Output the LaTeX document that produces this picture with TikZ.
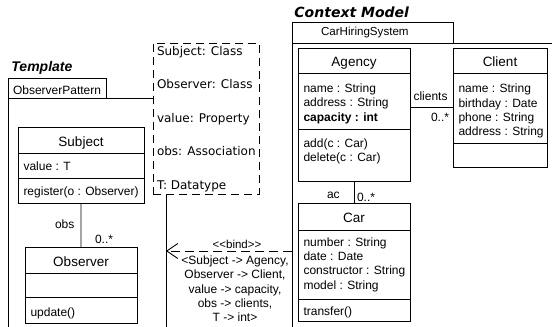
\documentclass[tikz,border=0pt]{standalone}
\usepackage{fontspec}
\setmainfont{Liberation Sans}
\newfontfamily\dejavu{DejaVu Sans}
\usetikzlibrary{arrows.meta,calc}
\begin{document}
\begin{tikzpicture}[x=1bp,y=-1bp,
  line width=0.9bp,
  box/.style={draw, inner sep=0, outer sep=0, anchor=north west},
  txt/.style={inner sep=0, outer sep=0, anchor=base west, font=\fontsize{12bp}{14bp}\selectfont},
  ctxt/.style={inner sep=0, outer sep=0, anchor=base, font=\fontsize{12bp}{14bp}\selectfont},
  ttl/.style={inner sep=0, outer sep=0, anchor=base, font=\fontsize{13.5bp}{16bp}\selectfont},
  ptxt/.style={inner sep=0, outer sep=0, anchor=base west, font=\dejavu\fontsize{12bp}{14bp}\selectfont},
  dsh/.style={dash pattern=on 8bp off 5bp}
]
\useasboundingbox (0,0) rectangle (552,326);
\clip (0,0) rectangle (552,326);

% ---------- Template package ----------
\node[inner sep=0, anchor=base west, font=\fontsize{14bp}{16bp}\selectfont\bfseries\itshape] (tlabel) at (11,71) {Template};
\node[box, minimum width=98bp, minimum height=20bp] (ttab) at (8,78) {};
\node[txt, font=\fontsize{12bp}{14bp}\selectfont] (ttabtxt) at (13,94) {ObserverPattern};
\node[box, minimum width=158bp, minimum height=260bp] (tbody) at (8,98) {};

% template parameters (dashed box)
\node[box, dsh, fill=white, minimum width=106bp, minimum height=151bp] (params) at (153,43) {};
\node[ptxt] (p1) at (157,55) {Subject: Class};
\node[ptxt] (p2) at (157,88) {Observer: Class};
\node[ptxt] (p3) at (157,122) {value: Property};
\node[ptxt] (p4) at (157,155.5) {obs: Association};
\node[ptxt] (p5) at (157,189) {T: Datatype};

% Subject
\node[box, minimum width=126bp, minimum height=76bp] (subject) at (18,127) {};
\draw (18,153) -- (144,153);
\draw (18,178) -- (144,178);
\node[ttl] (subjectname) at (81,146) {Subject};
\node[txt] (subjectattr) at (23.5,170) {value : T};
\node[txt] (subjectop) at (23.5,195) {register(o : Observer)};

% Observer
\node[box, minimum width=112bp, minimum height=76bp] (observer) at (25,247) {};
\draw (25,273) -- (137,273);
\draw (25,297) -- (137,297);
\node[ttl] (observername) at (81,266) {Observer};
\node[txt] (observerop) at (30.5,316) {update()};

\draw (subject.south) -- (observer.north);
\node[txt] (obslabel) at (55,228) {obs};
\node[txt] (obsmult) at (95,243) {0..*};

% ---------- Context model package ----------
\node[inner sep=0, anchor=base west, font=\dejavu\fontsize{14bp}{16bp}\selectfont\bfseries\itshape] (clabel) at (294,17) {Context Model};
\node[box, minimum width=161bp, minimum height=21bp] (ctab) at (292,22) {};
\node[txt, font=\fontsize{11.6bp}{14bp}\selectfont] (ctabtxt) at (321,35.5) {CarHiringSystem};
\node[box, minimum width=280bp, minimum height=300bp] (cbody) at (292,43) {};

% Agency
\node[box, minimum width=112bp, minimum height=133bp] (agency) at (298,48) {};
\draw (298,73) -- (410,73);
\draw (298,129) -- (410,129);
\node[ttl] (agencyname) at (354,66) {Agency};
\node[txt] (ag1) at (303.5,92) {name : String};
\node[txt] (ag2) at (303.5,106.5) {address : String};
\node[txt, font=\fontsize{12bp}{14bp}\selectfont\bfseries] (ag3) at (303.5,121) {capacity : int};
\node[txt] (ag4) at (303.5,147) {add(c : Car)};
\node[txt] (ag5) at (303.5,161.5) {delete(c : Car)};

% Client
\node[box, minimum width=94bp, minimum height=119bp] (client) at (453,48) {};
\draw (453,73) -- (547,73);
\draw (453,143) -- (547,143);
\node[ttl] (clientname) at (500,66) {Client};
\node[txt] (cl1) at (458.5,92.5) {name : String};
\node[txt] (cl2) at (458.5,107) {birthday : Date};
\node[txt] (cl3) at (458.5,121) {phone : String};
\node[txt] (cl4) at (458.5,135.5) {address : String};

% Car
\node[box, minimum width=112bp, minimum height=118bp] (car) at (298,203) {};
\draw (298,230) -- (410,230);
\draw (298,299) -- (410,299);
\node[ttl] (carname) at (354,222) {Car};
\node[txt] (ca1) at (303.5,246) {number : String};
\node[txt] (ca2) at (303.5,260.5) {date : Date};
\node[txt] (ca3) at (303.5,274.5) {constructor : String};
\node[txt] (ca4) at (303.5,289) {model : String};
\node[txt] (ca5) at (303.5,315) {transfer()};

% associations
\draw (client.west -| agency.east) -- (client.west);
\node[ctxt] (clientslabel) at (430.5,100) {clients};
\node[inner sep=0, anchor=base east, font=\fontsize{12bp}{14bp}\selectfont] (clientsmult) at (449.5,121) {0..*};

\draw (agency.south) -- (car.north);
\node[txt] (aclabel) at (327,198) {ac};
\node[txt] (acmult) at (357,201.5) {0..*};

% ---------- bind ----------
\coordinate (by) at (0,251);
\draw[dash pattern=on 9bp off 5bp, -{Straight Barb[length=11bp,width=15bp,line width=0.9bp]}]
  (cbody.west |- by) -- (tbody.east |- by);
\node[ctxt, font=\fontsize{11.5bp}{13bp}\selectfont] (bind) at (237,248.5) {{<}{<}bind{>}{>}};
\node[ctxt] (b1) at (235,264) {<Subject -> Agency,};
\node[ctxt] (b2) at (235,278.5) {Observer -> Client,};
\node[ctxt] (b3) at (235,293) {value -> capacity,};
\node[ctxt] (b4) at (235,307) {obs -> clients,};
\node[ctxt] (b5) at (235,321.5) {T -> int>};
\end{tikzpicture}
\end{document}
